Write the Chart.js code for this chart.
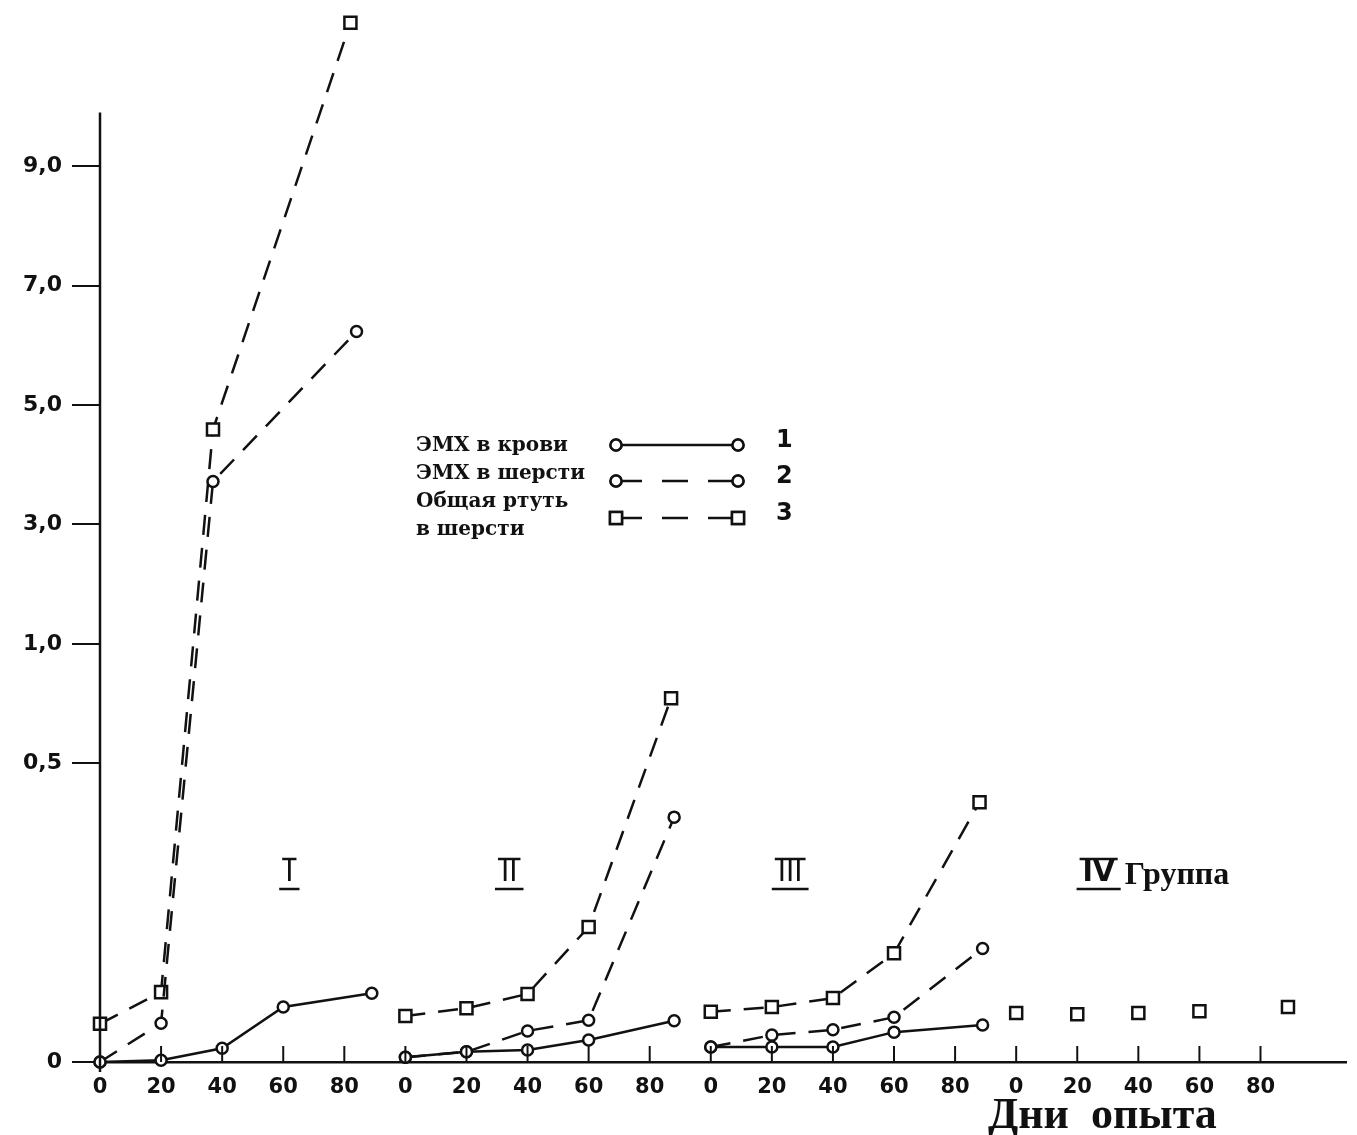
<!DOCTYPE html>
<html>
<head>
<meta charset="utf-8">
<script src="https://cdn.jsdelivr.net/npm/chart.js@4"></script>
<style>
  html, body { margin: 0; padding: 0; background: #fff; }
  #wrap { width: 1357px; height: 1135px; position: relative; }
</style>
</head>
<body>
<div id="wrap"><canvas id="mercuryChart"></canvas></div>
<script>
const groups = ['I', 'II', 'III', 'IV'];
const groupSpan = 100; // each group takes 100 "days" on the x axis
const dayTicks = [0, 20, 40, 60, 80];

// uneven value axis, as in the original drawing
const yTickValues = [0, 0.5, 1.0, 3.0, 5.0, 7.0, 9.0];
const yTickLabels = ['0', '0,5', '1,0', '3,0', '5,0', '7,0', '9,0'];
const yTickSteps = [0, 2.5, 3.5, 4.5, 5.5, 6.5, 7.5];
const yAxisTop = 7.95; // where the drawn axis line stops

// 1 - ЭМХ в крови (groups I-III)
const bloodDays = [[0, 20, 40, 60, 89], [0, 20, 40, 60, 88], [0, 20, 40, 60, 89]];
const bloodValues = [
  [0, 0.003, 0.023, 0.092, 0.115],
  [0.008, 0.017, 0.02, 0.037, 0.069],
  [0.025, 0.025, 0.025, 0.05, 0.062]
];

// 2 - ЭМХ в шерсти (groups I-III)
const woolDays = [[0, 20, 37, 84], [0, 20, 40, 60, 88], [0, 20, 40, 60, 89]];
const woolValues = [
  [0, 0.065, 3.72, 6.23],
  [0.008, 0.017, 0.052, 0.07, 0.41],
  [0.025, 0.045, 0.054, 0.075, 0.19]
];

// 3 - Общая ртуть в шерсти (group IV points are not joined)
const totalDays = [[0, 20, 37, 82], [0, 20, 40, 60, 87], [0, 20, 40, 60, 88], [0, 20, 40, 60, 89]];
const totalValues = [
  [0.064, 0.117, 4.59, 11.4],
  [0.077, 0.09, 0.114, 0.226, 0.773],
  [0.084, 0.092, 0.107, 0.182, 0.435],
  [0.082, 0.08, 0.082, 0.085, 0.092]
];

const legendNames = [['ЭМХ в крови'], ['ЭМХ в шерсти'], ['Общая ртуть', 'в шерсти']];
const ink = '#111';

function toAxis(v) {
  for (let i = 1; i < yTickValues.length; i++) {
    if (v <= yTickValues[i]) {
      const a = yTickValues[i - 1], b = yTickValues[i];
      return yTickSteps[i - 1] + (v - a) / (b - a) * (yTickSteps[i] - yTickSteps[i - 1]);
    }
  }
  const n = yTickValues.length - 1;
  return yTickSteps[n] + (v - yTickValues[n]) / 2;
}

const solidStyle = { borderDash: [], pointStyle: 'circle', pointRadius: 5.5 };
const dashCircleStyle = { borderDash: [20, 13], pointStyle: 'circle', pointRadius: 5.5 };
const dashSquareStyle = { borderDash: [20, 13], pointStyle: 'rect', pointRadius: 8.5 };

function makeSet(days, values, g, style, joined) {
  return Object.assign({
    data: days.map((d, i) => ({ x: g * groupSpan + d, y: toAxis(values[i]) })),
    showLine: joined,
    borderColor: ink,
    borderWidth: 2.5,
    pointBorderColor: ink,
    pointBackgroundColor: '#fff',
    pointBorderWidth: 2.5,
    clip: false
  }, style);
}

const datasets = [];
bloodDays.forEach((d, g) => datasets.push(makeSet(d, bloodValues[g], g, solidStyle, true)));
woolDays.forEach((d, g) => datasets.push(makeSet(d, woolValues[g], g, dashCircleStyle, true)));
totalDays.forEach((d, g) => datasets.push(makeSet(d, totalValues[g], g, dashSquareStyle, g < 3)));

const xTickValues = [];
groups.forEach((g, i) => dayTicks.forEach(d => xTickValues.push(i * groupSpan + d)));

const decor = {
  id: 'decor',
  afterDraw(chart) {
    const { ctx, chartArea, scales } = chart;
    const xs = scales.x, ys = scales.y;
    ctx.save();
    ctx.strokeStyle = ink;
    ctx.fillStyle = ink;

    // value axis line, stops below the top of the plot like the original
    ctx.lineWidth = 2.5;
    ctx.beginPath();
    ctx.moveTo(chartArea.left, ys.getPixelForValue(yAxisTop));
    ctx.lineTo(chartArea.left, chartArea.bottom + 10);
    ctx.stroke();

    // small tick marks standing up from the day axis
    ctx.lineWidth = 2;
    xTickValues.forEach(v => {
      if (v === 0) return;
      const x = xs.getPixelForValue(v);
      ctx.beginPath();
      ctx.moveTo(x, chartArea.bottom);
      ctx.lineTo(x, chartArea.bottom - 16);
      ctx.stroke();
    });

    // group numerals with bars above and below
    const groupAt = [62, 134, 226, 327];
    groups.forEach((g, i) => {
      const cx = xs.getPixelForValue(groupAt[i]);
      const cy = 874;
      ctx.font = (i === 3 ? 'bold ' : '') + '28px "DejaVu Sans"';
      ctx.textAlign = 'center';
      ctx.textBaseline = 'middle';
      const w = ctx.measureText(g).width;
      ctx.fillText(g, cx, cy);
      ctx.lineWidth = 2.5;
      ctx.beginPath();
      ctx.moveTo(cx - w / 2 - 3, cy - 15);
      ctx.lineTo(cx + w / 2 + 3, cy - 15);
      ctx.moveTo(cx - w / 2 - 6, cy + 15);
      ctx.lineTo(cx + w / 2 + 6, cy + 15);
      ctx.stroke();
      if (i === 3) {
        ctx.font = 'bold 32px "Liberation Serif"';
        ctx.textAlign = 'left';
        ctx.textBaseline = 'alphabetic';
        ctx.fillText('Группа', cx + w / 2 + 10, cy + 10);
      }
    });

    // axis title
    ctx.font = 'bold 44px "Liberation Serif"';
    ctx.textAlign = 'left';
    ctx.textBaseline = 'alphabetic';
    ctx.fillText('Дни  опыта', 988, 1128);

    // legend
    const styles = [solidStyle, dashCircleStyle, dashSquareStyle];
    const rows = [445, 481, 518];
    ctx.textBaseline = 'middle';
    legendNames.forEach((lines, i) => {
      lines.forEach((t, k) => {
        ctx.textAlign = 'left';
        ctx.font = 'bold 20px "DejaVu Serif"';
        ctx.fillText(t, 416, [446, 474, 502][i] + k * 28);
      });
      const y = rows[i], x0 = 616, x1 = 738;
      ctx.lineWidth = 2.5;
      ctx.setLineDash(i === 0 ? [] : [26, 20]);
      ctx.beginPath();
      ctx.moveTo(x0, y);
      ctx.lineTo(x1, y);
      ctx.stroke();
      ctx.setLineDash([]);
      [x0, x1].forEach(x => {
        ctx.fillStyle = '#fff';
        Chart.helpers.drawPoint(ctx, { pointStyle: styles[i].pointStyle, radius: styles[i].pointRadius, borderWidth: 2.5, rotation: 0 }, x, y);
        ctx.fill();
        ctx.stroke();
      });
      ctx.fillStyle = ink;
      ctx.font = 'bold 24px "DejaVu Sans"';
      ctx.textAlign = 'left';
      ctx.fillText(String(i + 1), 776, y - 4);
    });
    ctx.restore();
  }
};

const ctx = document.getElementById('mercuryChart').getContext('2d');

const mercuryChart = new Chart(ctx, {
  type: 'scatter',
  data: { datasets: datasets },
  options: {
    responsive: true,
    maintainAspectRatio: false,
    animation: false,
    layout: { padding: { top: 24, left: 0, right: 0, bottom: 0 } },
    plugins: { legend: { display: false }, tooltip: { enabled: false } },
    scales: {
      x: {
        type: 'linear',
        min: 0,
        max: 408,
        afterBuildTicks: s => { s.ticks = xTickValues.map(v => ({ value: v })); },
        afterFit: s => { s.height = 73; },
        grid: { display: false, drawTicks: false },
        border: { display: true, color: ink, width: 2.5 },
        ticks: {
          autoSkip: false,
          maxRotation: 0,
          padding: 13,
          color: ink,
          font: { family: 'DejaVu Sans', weight: 'bold', size: 21 },
          callback: (v, i) => String(dayTicks[i % dayTicks.length])
        }
      },
      y: {
        type: 'linear',
        min: 0,
        max: 8.69,
        afterBuildTicks: s => { s.ticks = yTickSteps.map(v => ({ value: v })); },
        afterFit: s => { s.width = 100; },
        grid: { drawOnChartArea: false, drawTicks: true, tickLength: 28, color: ink, lineWidth: 2 },
        border: { display: false },
        ticks: {
          padding: 10,
          color: ink,
          font: { family: 'DejaVu Sans', weight: 'bold', size: 22 },
          callback: (v, i) => yTickLabels[i]
        }
      }
    }
  },
  plugins: [decor]
});
</script>
</body>
</html>
